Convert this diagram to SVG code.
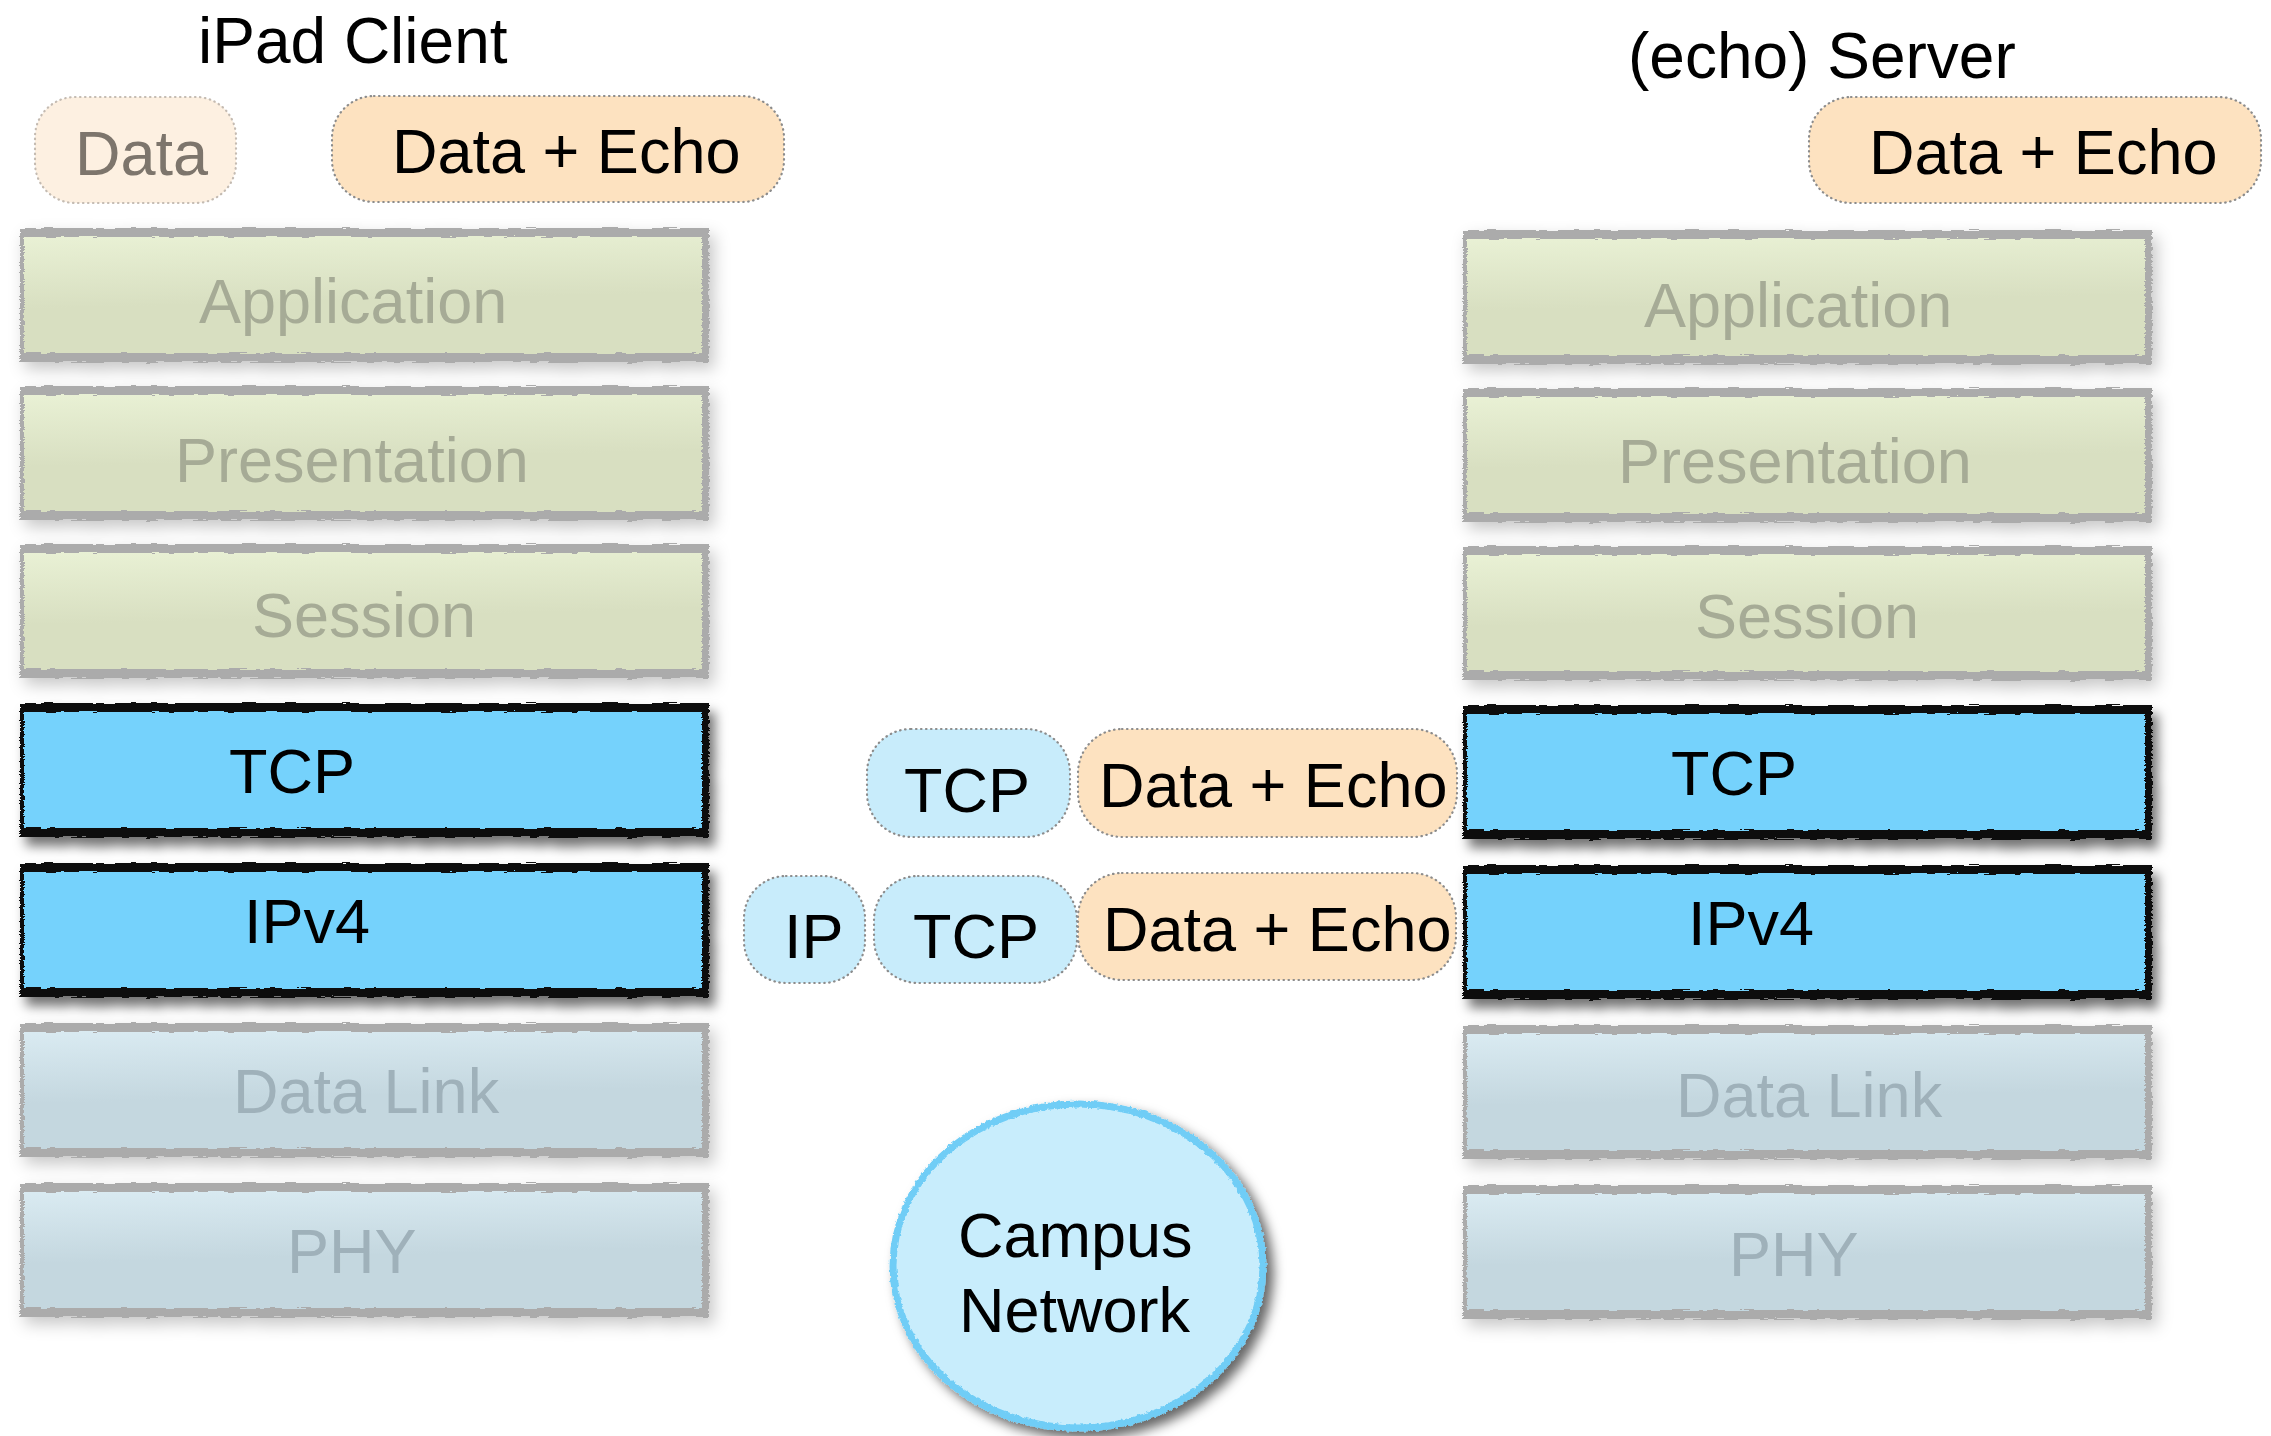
<svg xmlns="http://www.w3.org/2000/svg" xmlns:xlink="http://www.w3.org/1999/xlink" width="2271" height="1436" viewBox="0 0 2271 1436">
  <defs>
    <style>
      .t { font-family: "Liberation Sans", Arial, Helvetica, sans-serif; font-size: 63px; }
      .title { font-size: 64px; fill: #000; }
      .ink { fill: #000; }
      .fade-g { fill: #a6ab96; }
      .fade-b { fill: #9fb1ba; }
      .fade-d { fill: #7d756c; }
      .pill { stroke: #8c8c8c; stroke-width: 2.2; stroke-dasharray: 0.5 4.5; stroke-linecap: round; }
      .peach { fill: #fde2c0; }
      .peach-faded { fill: #fdf0e1; stroke: #c4bbb2; }
      .sky { fill: #c8ecfb; }
    </style>

    <!-- brush-like roughening for frame edges -->
    <filter id="rough" x="-2%" y="-10%" width="104%" height="120%">
      <feTurbulence type="fractalNoise" baseFrequency="0.05 0.7" numOctaves="2" seed="7" result="n"/>
      <feDisplacementMap in="SourceGraphic" in2="n" scale="5" xChannelSelector="R" yChannelSelector="G"/>
    </filter>
    <filter id="roughRound" x="-5%" y="-5%" width="110%" height="110%">
      <feTurbulence type="fractalNoise" baseFrequency="0.3" numOctaves="2" seed="4" result="n"/>
      <feDisplacementMap in="SourceGraphic" in2="n" scale="4" xChannelSelector="R" yChannelSelector="G"/>
    </filter>

    <!-- drop shadows -->
    <filter id="shadowDark" x="-5%" y="-15%" width="112%" height="140%">
      <feDropShadow dx="6" dy="9" stdDeviation="6" flood-color="#000" flood-opacity="0.55"/>
    </filter>
    <filter id="shadowSoft" x="-5%" y="-15%" width="112%" height="140%">
      <feDropShadow dx="5" dy="7" stdDeviation="8" flood-color="#000" flood-opacity="0.22"/>
    </filter>
    <filter id="shadowCloud" x="-10%" y="-10%" width="125%" height="125%">
      <feDropShadow dx="7" dy="7" stdDeviation="6" flood-color="#000" flood-opacity="0.6"/>
    </filter>

    <!-- layer fills -->
    <linearGradient id="gGreen" x1="0" y1="0" x2="0.08" y2="0.6">
      <stop offset="0" stop-color="#eaf2d6"/>
      <stop offset="1" stop-color="#d8dfc1"/>
    </linearGradient>
    <linearGradient id="gBlue" x1="0" y1="0" x2="0.08" y2="0.6">
      <stop offset="0" stop-color="#dbecf3"/>
      <stop offset="1" stop-color="#c4d7df"/>
    </linearGradient>

    <!-- frame bars: thick top/bottom, thin left, medium right -->
    <path id="frameBars" fill-rule="evenodd" d="M0,0 H689 V134 H0 Z M4,9 V125 H682 V9 Z"/>

    <g id="panelActive">
      <rect x="2" y="4" width="684" height="126" fill="#74d2fc"/>
      <use xlink:href="#frameBars" fill="#111" filter="url(#rough)"/>
    </g>
    <g id="panelUpper">
      <rect x="2" y="4" width="684" height="126" fill="url(#gGreen)"/>
      <use xlink:href="#frameBars" fill="#ababab" filter="url(#rough)"/>
    </g>
    <g id="panelLower">
      <rect x="2" y="4" width="684" height="126" fill="url(#gBlue)"/>
      <use xlink:href="#frameBars" fill="#ababab" filter="url(#rough)"/>
    </g>
  </defs>

  <rect width="2271" height="1436" fill="#fff"/>

  <!-- client side -->
  <g id="client-title"><text class="t title" x="198" y="63">iPad Client</text></g>
  <g id="client-data">
    <rect class="pill peach-faded" x="35" y="97" width="201" height="106" rx="40"/>
    <text class="t fade-d" x="75" y="175">Data</text>
  </g>
  <g id="client-data-echo">
    <rect class="pill peach" x="332" y="96" width="452" height="106" rx="42"/>
    <text class="t ink" x="392" y="173">Data + Echo</text>
  </g>

  <g id="client-application">
    <use xlink:href="#panelUpper" x="20" y="228" filter="url(#shadowSoft)"/>
    <text class="t fade-g" x="199" y="323">Application</text>
  </g>
  <g id="client-presentation">
    <use xlink:href="#panelUpper" x="20" y="386" filter="url(#shadowSoft)"/>
    <text class="t fade-g" x="175" y="482">Presentation</text>
  </g>
  <g id="client-session">
    <use xlink:href="#panelUpper" x="20" y="544" filter="url(#shadowSoft)"/>
    <text class="t fade-g" x="252" y="637">Session</text>
  </g>
  <g id="client-tcp">
    <use xlink:href="#panelActive" x="20" y="703" filter="url(#shadowDark)"/>
    <text class="t ink" x="229" y="793">TCP</text>
  </g>
  <g id="client-ipv4">
    <use xlink:href="#panelActive" x="20" y="863" filter="url(#shadowDark)"/>
    <text class="t ink" x="244" y="943">IPv4</text>
  </g>
  <g id="client-datalink">
    <use xlink:href="#panelLower" x="20" y="1023" filter="url(#shadowSoft)"/>
    <text class="t fade-b" x="233" y="1113">Data Link</text>
  </g>
  <g id="client-phy">
    <use xlink:href="#panelLower" x="20" y="1183" filter="url(#shadowSoft)"/>
    <text class="t fade-b" x="287" y="1273">PHY</text>
  </g>

  <!-- server side -->
  <g id="server-title"><text class="t title" x="1628" y="78">(echo) Server</text></g>
  <g id="server-data-echo">
    <rect class="pill peach" x="1809" y="97" width="452" height="106" rx="42"/>
    <text class="t ink" x="1869" y="174">Data + Echo</text>
  </g>

  <g id="server-application">
    <use xlink:href="#panelUpper" x="1463" y="230" filter="url(#shadowSoft)"/>
    <text class="t fade-g" x="1644" y="327">Application</text>
  </g>
  <g id="server-presentation">
    <use xlink:href="#panelUpper" x="1463" y="388" filter="url(#shadowSoft)"/>
    <text class="t fade-g" x="1618" y="483">Presentation</text>
  </g>
  <g id="server-session">
    <use xlink:href="#panelUpper" x="1463" y="546" filter="url(#shadowSoft)"/>
    <text class="t fade-g" x="1695" y="638">Session</text>
  </g>
  <g id="server-tcp">
    <use xlink:href="#panelActive" x="1463" y="705" filter="url(#shadowDark)"/>
    <text class="t ink" x="1671" y="795">TCP</text>
  </g>
  <g id="server-ipv4">
    <use xlink:href="#panelActive" x="1463" y="865" filter="url(#shadowDark)"/>
    <text class="t ink" x="1688" y="945">IPv4</text>
  </g>
  <g id="server-datalink">
    <use xlink:href="#panelLower" x="1463" y="1025" filter="url(#shadowSoft)"/>
    <text class="t fade-b" x="1676" y="1117">Data Link</text>
  </g>
  <g id="server-phy">
    <use xlink:href="#panelLower" x="1463" y="1185" filter="url(#shadowSoft)"/>
    <text class="t fade-b" x="1729" y="1276">PHY</text>
  </g>

  <!-- segment on the wire: TCP header + payload -->
  <g id="segment-tcp">
    <rect class="pill sky" x="867" y="729" width="203" height="108" rx="44"/>
    <text class="t ink" x="904" y="812">TCP</text>
  </g>
  <g id="segment-payload">
    <rect class="pill peach" x="1078" y="729" width="379" height="108" rx="44"/>
    <text class="t ink" x="1099" y="807">Data + Echo</text>
  </g>

  <!-- packet: IP header + TCP header + payload -->
  <g id="packet-ip">
    <rect class="pill sky" x="744" y="876" width="121" height="107" rx="42"/>
    <text class="t ink" x="784" y="958">IP</text>
  </g>
  <g id="packet-tcp">
    <rect class="pill sky" x="874" y="876" width="203" height="107" rx="44"/>
    <text class="t ink" x="913" y="958">TCP</text>
  </g>
  <g id="packet-payload">
    <rect class="pill peach" x="1078" y="873" width="378" height="107" rx="44"/>
    <text class="t ink" x="1103" y="951">Data + Echo</text>
  </g>

  <!-- network cloud -->
  <g id="campus-network">
    <g filter="url(#shadowCloud)">
      <ellipse cx="1078" cy="1266" rx="185" ry="162" fill="#c8edfc"/>
      <ellipse cx="1078" cy="1266" rx="185" ry="162" fill="none" stroke="#70cdf6" stroke-width="7" filter="url(#roughRound)"/>
    </g>
    <text class="t ink" x="958" y="1257">Campus</text>
    <text class="t ink" x="959" y="1332">Network</text>
  </g>

  <g id="connectors"/>
</svg>
